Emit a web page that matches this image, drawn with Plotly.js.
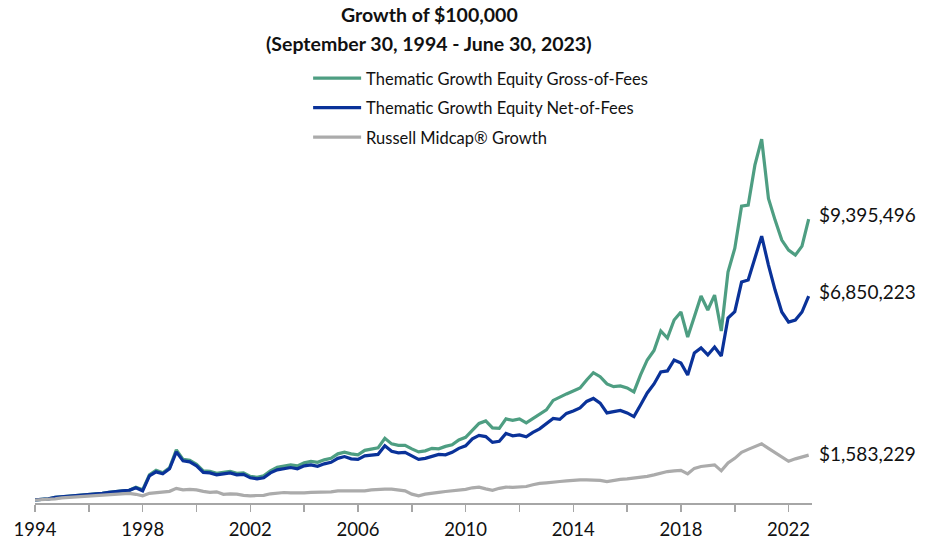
<!DOCTYPE html>
<html>
<head>
<meta charset="utf-8">
<script src="https://cdn.plot.ly/plotly-3.0.1.min.js"></script>
<style>html,body{margin:0;padding:0;background:#fff;}#chart{width:931px;height:542px;}</style>
</head>
<body>
<div id="chart"></div>
<script>
// Quarter-end observations, Sept 30 1994 .. June 30 2023 (116 quarters)
const startYear = 1994, startMonth = 9, nQuarters = 116;

const grossValues = [
100000,122000,139000,188000,205000,221000,238000,255000,288000,304000,
321000,354000,387000,403000,420000,519000,436000,932000,1081000,998000,
1164000,1759000,1445000,1412000,1279000,1065000,1048000,982000,1015000,1048000,
982000,998000,883000,850000,899000,1065000,1180000,1230000,1263000,1230000,
1329000,1379000,1346000,1428000,1478000,1627000,1683000,1627000,1593000,1742000,
1792000,1825000,2139000,1957000,1908000,1908000,1792000,1693000,1726000,1808000,
1792000,1874000,1924000,2089000,2172000,2420000,2635000,2717000,2486000,2470000,
2784000,2734000,2784000,2651000,2800000,2932000,3081000,3395000,3511000,3610000,
3709000,3808000,4073000,4314000,4182000,3941000,3851000,3875000,3808000,3676000,
4238000,4734000,5048000,5693000,5461000,6056000,6321000,5494000,6166000,6850000,
6387000,6883000,5693000,7643000,8427000,9825000,9858000,11181000,12040000,10080000,
9362000,8701000,8371000,8205000,8503000,9395496
];

const netValues = [
100000,122000,139000,188000,205000,221000,238000,255000,288000,304000,
321000,354000,387000,403000,420000,503000,403000,899000,1031000,965000,
1131000,1693000,1395000,1362000,1230000,1015000,998000,932000,965000,998000,
932000,949000,833000,800000,833000,998000,1098000,1147000,1174000,1131000,
1230000,1263000,1213000,1296000,1346000,1478000,1537000,1461000,1445000,1560000,
1593000,1610000,1891000,1709000,1660000,1676000,1560000,1445000,1478000,1544000,
1610000,1593000,1676000,1808000,1891000,2122000,2238000,2198000,2007000,2040000,
2304000,2222000,2255000,2189000,2337000,2453000,2618000,2800000,2767000,2965000,
3048000,3147000,3362000,3461000,3303000,2982000,3025000,3065000,2982000,2860000,
3246000,3643000,3941000,4337000,4371000,4734000,4635000,4238000,4966000,5131000,
4899000,5164000,4866000,6123000,6331000,7313000,7379000,8106000,8833000,7875000,
7048000,6321000,5990000,6056000,6321000,6850223
];

const russellValues = [
100000,106000,122000,139000,172000,188000,205000,221000,238000,255000,
271000,288000,304000,304000,321000,288000,238000,321000,337000,354000,
387000,486000,436000,453000,436000,387000,354000,370000,288000,304000,
294000,255000,238000,248000,255000,304000,337000,347000,337000,327000,
337000,354000,354000,360000,370000,403000,403000,387000,380000,403000,
436000,460000,460000,460000,436000,403000,294000,238000,294000,337000,
354000,380000,403000,413000,453000,503000,526000,469000,420000,486000,
526000,519000,536000,545000,602000,651000,668000,701000,711000,734000,
757000,767000,767000,767000,750000,711000,750000,784000,800000,823000,
850000,883000,932000,998000,1041000,1065000,1081000,965000,1147000,1207000,
1230000,1263000,1065000,1329000,1478000,1676000,1775000,1858000,1957000,1808000,
1660000,1527000,1379000,1461000,1527000,1583229
];

const seriesNames = [
  "Thematic Growth Equity Gross-of-Fees",
  "Thematic Growth Equity Net-of-Fees",
  "Russell Midcap\u00AE Growth"
];
const tickYears = [1994, 1998, 2002, 2006, 2010, 2014, 2018, 2022];
const titleLines = ["Growth of $100,000", "(September 30, 1994 - June 30, 2023)"];

// build dates (quarter ends)
function monthEnd(y, m) { // m 1..12
  const d = new Date(Date.UTC(y, m, 0));
  return d.toISOString().slice(0, 10);
}
const dates = [];
for (let i = 0; i < nQuarters; i++) {
  const mi = (startMonth - 1) + 3 * i;
  dates.push(monthEnd(startYear + Math.floor(mi / 12), (mi % 12) + 1));
}

const colors = ["#4E9E82", "#0A3299", "#ABABAB"];
const allValues = [grossValues, netValues, russellValues];

const traces = allValues.map((vals, k) => ({
  type: "scatter", mode: "lines",
  x: dates, y: vals, name: seriesNames[k],
  legendgroup: "g" + k,
  line: { color: colors[k], width: 3.2 },
  hoverinfo: "skip"
}));

const fmt = v => "$" + Math.round(v).toLocaleString("en-US");
const endShifts = [5, 5, 2];
const endLabels = allValues.map((vals, k) => ({
  x: dates[dates.length - 1], y: vals[vals.length - 1],
  xref: "x", yref: "y", text: fmt(vals[vals.length - 1]),
  showarrow: false, xanchor: "left", yanchor: "middle",
  xshift: 8, yshift: endShifts[k],
  font: { family: "Lato, sans-serif", size: 19, color: "#111" }
}));

const titleAnn = [
  { text: "<b>" + titleLines[0] + "</b>", x: 0.5075, y: 1.1546 },
  { text: "<b>" + titleLines[1] + "</b>", x: 0.5075, y: 1.0862 }
].map(a => Object.assign(a, {
  xref: "paper", yref: "paper", showarrow: false, xanchor: "center", yanchor: "middle",
  font: { family: "Lato, sans-serif", size: 19.5, color: "#111" }
}));

const layout = {
  width: 931, height: 542,
  margin: { l: 35, r: 119.3, t: 79.5, b: 39 },
  paper_bgcolor: "#fff", plot_bgcolor: "#fff",
  showlegend: true,
  legend: {
    x: 0.3515, y: 1.045, xanchor: "left", yanchor: "top",
    font: { family: "Lato, sans-serif", size: 16.5, color: "#111" },
    tracegroupgap: 5, itemwidth: 48, bgcolor: "rgba(0,0,0,0)"
  },
  xaxis: {
    type: "date",
    range: ["1994-09-30", "2023-08-14"],
    tickvals: tickYears.map(y => y + "-09-30"),
    ticktext: tickYears.map(String),
    ticks: "outside", ticklen: 7, tickwidth: 1.5, tickcolor: "#A6A6A6",
    showline: true, linecolor: "#A6A6A6", linewidth: 1.5,
    showgrid: false, zeroline: false,
    ticklabelstandoff: 2,
    tickfont: { family: "Lato, sans-serif", size: 18.5, color: "#111" },
    minor: { tick0: "1994-09-30", dtick: "M24", ticks: "outside", ticklen: 7, tickwidth: 1.5, tickcolor: "#A6A6A6", showgrid: false }
  },
  yaxis: { range: [0, 14000000], visible: false, showgrid: false, zeroline: false, fixedrange: true },
  annotations: titleAnn.concat(endLabels)
};

Plotly.newPlot("chart", traces, layout, { displayModeBar: false, staticPlot: true });
</script>
</body>
</html>
